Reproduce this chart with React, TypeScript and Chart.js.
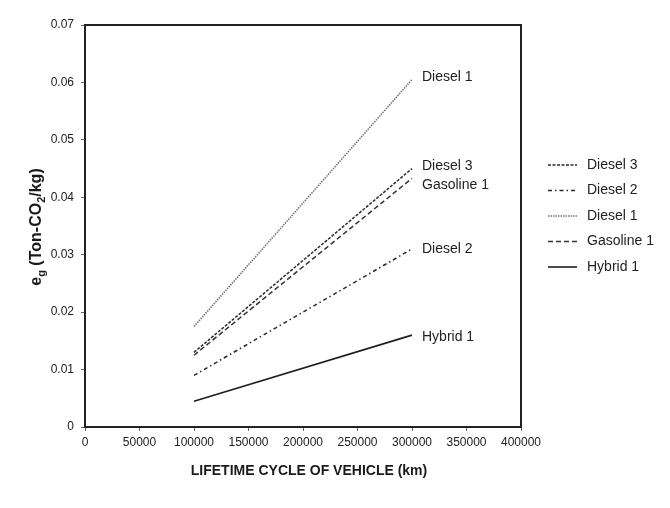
import React, { useEffect, useRef } from "react";
import { Chart, registerables } from "chart.js";

Chart.register(...registerables);

// ---- data ----
const xValues = [100000, 300000];
const diesel3 = [0.013, 0.045];
const diesel2 = [0.009, 0.031];
const diesel1 = [0.0175, 0.0605];
const gasoline1 = [0.0125, 0.0433];
const hybrid1 = [0.0045, 0.016];
const seriesNames = ["Diesel 3", "Diesel 2", "Diesel 1", "Gasoline 1", "Hybrid 1"];
const seriesValues = [diesel3, diesel2, diesel1, gasoline1, hybrid1];
const xTickValues = [0, 50000, 100000, 150000, 200000, 250000, 300000, 350000, 400000];
const yTickValues = [0, 0.01, 0.02, 0.03, 0.04, 0.05, 0.06, 0.07];
const xTitle = "LIFETIME CYCLE OF VEHICLE (km)";

// ---- styles ----
const FONT = "'Liberation Sans', Arial, sans-serif";
const seriesStyle: Record<string, { dash: number[]; color: string; width: number; labelDy: number }> = {
  "Diesel 3": { dash: [3, 1.5], color: "#2a2a2a", width: 1.5, labelDy: -2 },
  "Diesel 2": { dash: [4, 3, 1.5, 3], color: "#2a2a2a", width: 1.5, labelDy: 0 },
  "Diesel 1": { dash: [1.5, 1], color: "#777777", width: 1.6, labelDy: -2 },
  "Gasoline 1": { dash: [5, 3], color: "#333333", width: 1.5, labelDy: 7 },
  "Hybrid 1": { dash: [], color: "#1e1e1e", width: 1.6, labelDy: 2 },
};

const boxPlugin = {
  id: "boxPlugin",
  afterDraw(chart: any) {
    const { ctx, chartArea: a } = chart;
    ctx.save();
    ctx.strokeStyle = "#222";
    ctx.lineWidth = 2;
    ctx.setLineDash([]);
    ctx.strokeRect(a.left, a.top, a.right - a.left, a.bottom - a.top);
    ctx.restore();
  },
};

const labelPlugin = {
  id: "labelPlugin",
  afterDatasetsDraw(chart: any) {
    const { ctx } = chart;
    ctx.save();
    ctx.fillStyle = "#222";
    ctx.font = `14px ${FONT}`;
    ctx.textBaseline = "middle";
    ctx.textAlign = "left";
    chart.data.datasets.forEach((ds: any, i: number) => {
      const meta = chart.getDatasetMeta(i);
      const pt = meta.data[meta.data.length - 1];
      const st = seriesStyle[ds.label];
      ctx.fillText(ds.label, pt.x + 10, pt.y + st.labelDy);
    });
    ctx.restore();
  },
};

const legendPlugin = {
  id: "legendPlugin",
  afterDraw(chart: any) {
    const { ctx } = chart;
    ctx.save();
    ctx.font = `14px ${FONT}`;
    ctx.textBaseline = "middle";
    ctx.fillStyle = "#222";
    chart.data.datasets.forEach((ds: any, i: number) => {
      const st = seriesStyle[ds.label];
      const y = 165 + i * 25.5;
      ctx.beginPath();
      ctx.strokeStyle = st.color;
      ctx.lineWidth = st.width;
      ctx.setLineDash(st.dash);
      ctx.moveTo(548, y);
      ctx.lineTo(577, y);
      ctx.stroke();
      ctx.setLineDash([]);
      ctx.fillText(ds.label, 587, y);
    });
    ctx.restore();
  },
};

const titlePlugin = {
  id: "titlePlugin",
  afterDraw(chart: any) {
    const { ctx } = chart;
    ctx.save();
    ctx.fillStyle = "#1a1a1a";
    // x title
    ctx.font = `bold 14px ${FONT}`;
    ctx.textAlign = "center";
    ctx.textBaseline = "middle";
    ctx.fillText(xTitle, 309, 471);
    // y title with subscripts
    const big = `bold 16px ${FONT}`;
    const small = `bold 11px ${FONT}`;
    const parts: [string, boolean][] = [
      ["e", false],
      ["g", true],
      [" (Ton-CO", false],
      ["2", true],
      ["/kg)", false],
    ];
    let total = 0;
    parts.forEach(([t, sub]) => {
      ctx.font = sub ? small : big;
      total += ctx.measureText(t).width;
    });
    ctx.translate(37, 227);
    ctx.rotate(-Math.PI / 2);
    ctx.textAlign = "left";
    ctx.textBaseline = "middle";
    let x = -total / 2;
    parts.forEach(([t, sub]) => {
      ctx.font = sub ? small : big;
      ctx.fillText(t, x, sub ? 5 : 0);
      x += ctx.measureText(t).width;
    });
    ctx.restore();
  },
};

export default function App() {
  const ref = useRef<HTMLCanvasElement | null>(null);
  useEffect(() => {
    document.body.style.margin = "0";
    if (!ref.current) return;
    const chart = new Chart(ref.current, {
      type: "line",
      data: {
        datasets: seriesNames.map((name, i) => ({
          label: name,
          data: xValues.map((x, j) => ({ x, y: seriesValues[i][j] })),
          borderColor: seriesStyle[name].color,
          borderWidth: seriesStyle[name].width,
          borderDash: seriesStyle[name].dash,
          pointRadius: 0,
          fill: false,
          tension: 0,
        })),
      },
      options: {
        animation: false,
        responsive: false,
        maintainAspectRatio: false,
        layout: { padding: { top: 25, right: 149, left: 0, bottom: 0 } },
        plugins: { legend: { display: false }, tooltip: { enabled: false }, title: { display: false } },
        scales: {
          x: {
            type: "linear",
            min: 0,
            max: 400000,
            afterFit: (s: any) => {
              s.height = 81;
            },
            afterBuildTicks: (s: any) => {
              s.ticks = xTickValues.map((v) => ({ value: v }));
            },
            ticks: {
              color: "#222",
              font: { size: 12, family: FONT },
              padding: 4,
              maxRotation: 0,
              autoSkip: false,
              callback: (v: any) => String(v),
            },
            grid: { drawOnChartArea: false, drawTicks: true, tickLength: 4, color: "#666" },
            border: { display: false },
          },
          y: {
            type: "linear",
            min: 0,
            max: 0.07,
            afterFit: (s: any) => {
              s.width = 85;
            },
            afterBuildTicks: (s: any) => {
              s.ticks = yTickValues.map((v) => ({ value: v }));
            },
            ticks: {
              color: "#222",
              font: { size: 12, family: FONT },
              padding: 7,
              autoSkip: false,
              callback: (v: any) => String(Number(Number(v).toFixed(2))),
            },
            grid: { drawOnChartArea: false, drawTicks: true, tickLength: 4, color: "#666" },
            border: { display: false },
          },
        },
      } as any,
      plugins: [boxPlugin, labelPlugin, legendPlugin, titlePlugin],
    });
    return () => chart.destroy();
  }, []);
  return (
    <div style={{ width: 670, height: 508, background: "#fff" }}>
      <canvas ref={ref} width={670} height={508} style={{ display: "block" }} />
    </div>
  );
}
